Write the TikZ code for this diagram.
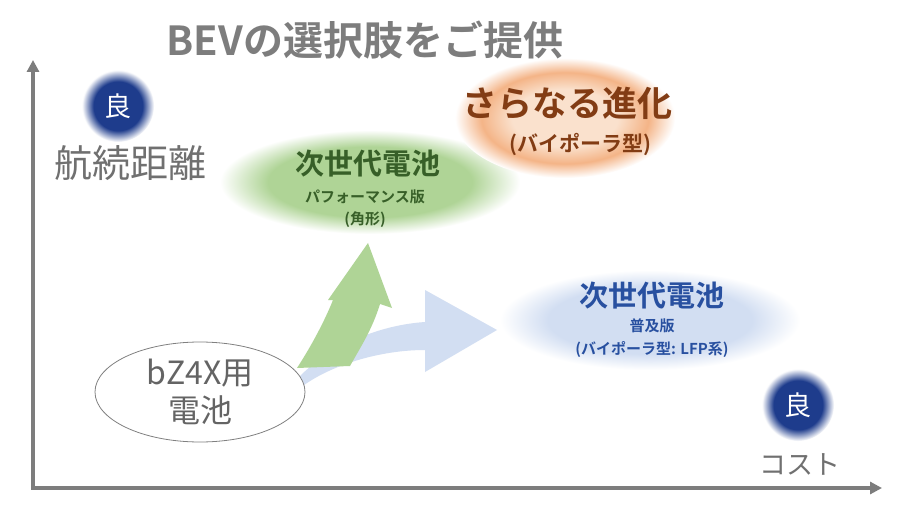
\documentclass[tikz,border=0pt]{standalone}
\usepackage{fontspec}
\setmainfont{Noto Sans CJK JP}
\newfontfamily\jpb{Noto Sans CJK JP}[BoldFont=* Bold]
\definecolor{gfill}{RGB}{175,212,150}
\definecolor{ofill}{RGB}{244,180,135}
\definecolor{ocen}{RGB}{250,225,205}
\definecolor{bfill}{RGB}{210,222,242}
\definecolor{dblue}{RGB}{30,60,140}
\definecolor{gtext}{RGB}{55,95,40}
\definecolor{otext}{RGB}{130,60,20}
\definecolor{btext}{RGB}{40,80,160}
\definecolor{axisgray}{RGB}{125,125,125}
\pgfdeclareradialshading{gglow}{\pgfpoint{0bp}{0bp}}{color(0bp)=(gfill);color(17bp)=(gfill);color(25bp)=(white);color(50bp)=(white)}
\pgfdeclareradialshading{oglow}{\pgfpoint{0bp}{0bp}}{color(0bp)=(ocen);color(12bp)=(ocen);color(19bp)=(ofill);color(25bp)=(white);color(50bp)=(white)}
\pgfdeclareradialshading{bglow}{\pgfpoint{0bp}{0bp}}{color(0bp)=(bfill);color(17bp)=(bfill);color(25bp)=(white);color(50bp)=(white)}
\pgfdeclareradialshading{dglow}{\pgfpoint{0bp}{0bp}}{color(0bp)=(dblue);color(17bp)=(dblue);color(25bp)=(white);color(50bp)=(white)}
\usetikzlibrary{arrows.meta,shapes.geometric}
\begin{document}
\begin{tikzpicture}[x=1pt,y=-1pt,
  ax/.style={line width=3.5pt,draw=axisgray,-{Triangle[length=12pt,width=12pt]}},
  good/.style={text=white,font=\fontsize{27}{29}\selectfont},
  lbl/.style={text=axisgray!90!black,font=\fontsize{38}{40}\selectfont},
  big/.style={font=\jpb\bfseries\fontsize{29}{31}\selectfont},
  small/.style={font=\jpb\bfseries\fontsize{15}{17}\selectfont}]
\useasboundingbox (0,0) rectangle (897,513);
\fill[white] (0,0) rectangle (897,513);
% glows
\shade[shading=gglow] (370,182) ellipse [x radius=150,y radius=52];
\shade[shading=oglow] (565,118) ellipse [x radius=110,y radius=60];
\shade[shading=bglow] (650,320) ellipse [x radius=150,y radius=50];
\shade[shading=dglow] (118,106) circle [radius=36];
\shade[shading=dglow] (798,405) circle [radius=36];
% arrows
\fill[bfill] (298,378) .. controls (330,345) and (380,325) .. (425,322) -- (425,290) -- (497,330) -- (425,372) -- (425,350) .. controls (380,350) and (330,365) .. (300,388) -- cycle;
\fill[gfill] (297,368) .. controls (312,345) and (325,320) .. (333,300) -- (328,300) -- (368,243) -- (392,308) -- (380,304) .. controls (372,330) and (360,348) .. (350,366) -- cycle;
% axes
\coordinate (o) at (33,488);
\coordinate (ytop) at (33,60);
\coordinate (xend) at (882,488);
\draw[ax] (o) -- (ytop);
\draw[ax] ([xshift=-1.75pt]o) -- (xend);
% texts
\node[font=\jpb\bfseries\fontsize{40}{42}\selectfont,text=axisgray] (title) at (365,40) {BEVの選択肢をご提供};
\node[good] (g1) at (118,106) {良};
\node[good] (g2) at (798,405) {良};
\node[lbl] (yl) at (130,163) {航続距離};
\node[lbl,font=\fontsize{27}{29}\selectfont] (xl) at (800,464) {コスト};
\node[big,text=gtext] (gn1) at (368,164) {次世代電池};
\node[small,text=gtext] (gn2) at (365,197) {パフォーマンス版};
\node[small,text=gtext] (gn3) at (365,220) {(角形)};
\node[font=\jpb\bfseries\fontsize{35}{37}\selectfont,text=otext] (on1) at (567,103) {さらなる進化};
\node[font=\jpb\bfseries\fontsize{21}{23}\selectfont,text=otext] (on2) at (580,145) {(バイポーラ型)};
\node[big,text=btext] (bn1) at (652,296) {次世代電池};
\node[small,text=btext] (bn2) at (652,326) {普及版};
\node[small,text=btext] (bn3) at (652,350) {(バイポーラ型: LFP系)};
\node[draw=gray,fill=white,ellipse,minimum width=210,minimum height=100,line width=0.8pt] (bz) at (200,392) {};
\node[align=center,text=axisgray!80!black,font=\fontsize{32}{38}\selectfont] (bzt) at (bz) {bZ4X用\\電池};
\end{tikzpicture}
\end{document}
